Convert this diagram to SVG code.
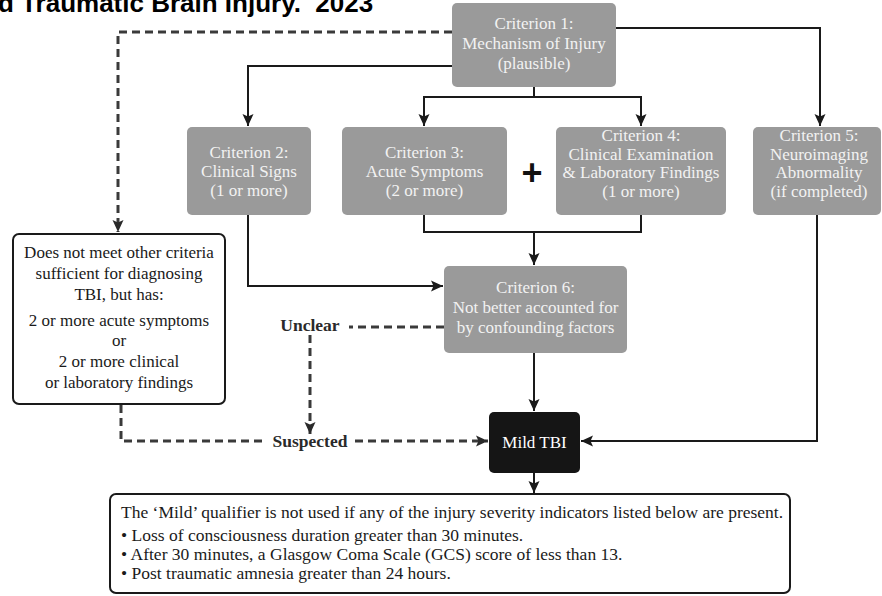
<svg xmlns="http://www.w3.org/2000/svg" width="882" height="596" viewBox="0 0 882 596">
<defs>
<style>
.title{font-family:"Liberation Sans",Arial,sans-serif;font-weight:bold;font-size:26px;fill:#000;white-space:pre}
.g{fill:#9a9a9a}
.gt{font-family:"Liberation Serif","Times New Roman",serif;font-size:17px;fill:#f2f2f2;text-anchor:middle}
.bt{font-family:"Liberation Serif","Times New Roman",serif;font-size:17px;fill:#1a1a1a;text-anchor:middle}
.lt{font-family:"Liberation Serif","Times New Roman",serif;font-size:17.5px;fill:#1a1a1a}
.lbl{font-family:"Liberation Serif","Times New Roman",serif;font-size:17.5px;font-weight:bold;fill:#2a2a2a;text-anchor:middle}
.wb{fill:#fff;stroke:#1a1a1a;stroke-width:2}
.s{fill:none;stroke:#1a1a1a;stroke-width:2}
.d{fill:none;stroke:#3a3a3a;stroke-width:3;stroke-dasharray:8 5}
</style>
<marker id="a" markerUnits="userSpaceOnUse" markerWidth="13" markerHeight="12" refX="12" refY="6" orient="auto">
<path d="M0,0.5 L12,6 L0,11.5 L2.5,6 z" fill="#1a1a1a"/>
</marker>
<marker id="ad" markerUnits="userSpaceOnUse" markerWidth="13" markerHeight="12" refX="12" refY="6" orient="auto">
<path d="M0,0.5 L12,6 L0,11.5 L2.5,6 z" fill="#2a2a2a"/>
</marker>
</defs>
<rect width="882" height="596" fill="#fff"/>
<text class="title" x="-2" y="12">d Traumatic Brain Injury.  2023</text>

<g id="connectors">
<path class="d" d="M452,32 H118 V232" marker-end="url(#ad)"/>
<path class="s" d="M452,66 H248 V126" marker-end="url(#a)"/>
<path class="s" d="M534,87 V97"/>
<path class="s" d="M534,97 H424 V126" marker-end="url(#a)"/>
<path class="s" d="M534,97 H641 V126" marker-end="url(#a)"/>
<path class="s" d="M616,28 H820 V126" marker-end="url(#a)"/>
<path class="s" d="M248,215 V286 H443" marker-end="url(#a)"/>
<path class="s" d="M424,215 V232 H641 V215"/>
<path class="s" d="M534,232 V265" marker-end="url(#a)"/>
<path class="s" d="M817,215 V441 H581" marker-end="url(#a)"/>
<path class="s" d="M534,353 V411" marker-end="url(#a)"/>
<path class="s" d="M534,473 V493" marker-end="url(#a)"/>
<path class="d" d="M121,405 V441 H266"/>
<path class="d" d="M355,441 H488" marker-end="url(#ad)"/>
<path class="d" d="M444,327 H349"/>
<path class="d" d="M310,335 V434" marker-end="url(#ad)"/>
<text class="lbl" x="310" y="331">Unclear</text>
<text class="lbl" x="310" y="447">Suspected</text>
</g>

<g id="c1">
<rect class="g" x="452" y="3" width="164" height="84" rx="5"/>
<text class="gt" x="534" y="29">Criterion 1:</text>
<text class="gt" x="534" y="49">Mechanism of Injury</text>
<text class="gt" x="534" y="69">(plausible)</text>
</g>

<g id="c2">
<rect class="g" x="187" y="127" width="124" height="88" rx="5"/>
<text class="gt" x="249" y="158">Criterion 2:</text>
<text class="gt" x="249" y="177">Clinical Signs</text>
<text class="gt" x="249" y="196">(1 or more)</text>
</g>

<g id="c3">
<rect class="g" x="342" y="127" width="165" height="88" rx="5"/>
<text class="gt" x="424.5" y="158">Criterion 3:</text>
<text class="gt" x="424.5" y="177">Acute Symptoms</text>
<text class="gt" x="424.5" y="196">(2 or more)</text>
</g>

<g id="plus">
<text x="532" y="185" style="font-family:'Liberation Sans',Arial,sans-serif;font-weight:bold;font-size:36px;fill:#111;text-anchor:middle">+</text>
</g>

<g id="c4">
<rect class="g" x="556" y="127" width="170" height="88" rx="5"/>
<text class="gt" x="641" y="141">Criterion 4:</text>
<text class="gt" x="641" y="159.5">Clinical Examination</text>
<text class="gt" x="641" y="178">&amp; Laboratory Findings</text>
<text class="gt" x="641" y="196.5">(1 or more)</text>
</g>

<g id="c5">
<rect class="g" x="753" y="127" width="128" height="88" rx="5"/>
<text class="gt" x="819" y="141">Criterion 5:</text>
<text class="gt" x="819" y="159.5">Neuroimaging</text>
<text class="gt" x="819" y="178">Abnormality</text>
<text class="gt" x="819" y="196.5">(if completed)</text>
</g>

<g id="c6">
<rect class="g" x="444" y="266" width="183" height="87" rx="5"/>
<text class="gt" x="535.5" y="293">Criterion 6:</text>
<text class="gt" x="535.5" y="313">Not better accounted for</text>
<text class="gt" x="535.5" y="333">by confounding factors</text>
</g>

<g id="alt">
<rect class="wb" x="13" y="234" width="212" height="170" rx="6"/>
<text class="bt" x="119" y="258">Does not meet other criteria</text>
<text class="bt" x="119" y="279">sufficient for diagnosing</text>
<text class="bt" x="119" y="300">TBI, but has:</text>
<text class="bt" x="119" y="326">2 or more acute symptoms</text>
<text class="bt" x="119" y="346">or</text>
<text class="bt" x="119" y="367">2 or more clinical</text>
<text class="bt" x="119" y="388">or laboratory findings</text>
</g>

<g id="mild">
<rect x="489" y="412" width="91" height="61" rx="5" fill="#151515"/>
<text class="gt" x="534.5" y="448" style="fill:#fff">Mild TBI</text>
</g>

<g id="note">
<rect class="wb" x="110" y="494" width="680" height="99" rx="6"/>
<text class="lt" x="121" y="518">The ‘Mild’ qualifier is not used if any of the injury severity indicators listed below are present.</text>
<text class="lt" x="121" y="541">• Loss of consciousness duration greater than 30 minutes.</text>
<text class="lt" x="121" y="560">• After 30 minutes, a Glasgow Coma Scale (GCS) score of less than 13.</text>
<text class="lt" x="121" y="579">• Post traumatic amnesia greater than 24 hours.</text>
</g>
</svg>
